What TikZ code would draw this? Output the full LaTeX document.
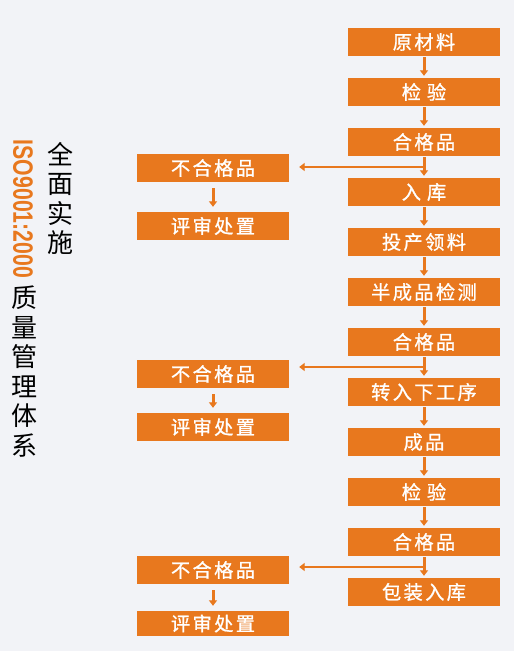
\documentclass[tikz,border=0pt]{standalone}
\usepackage{fontspec}
\usetikzlibrary{arrows.meta,calc}
\newfontfamily\cjk{Noto Sans CJK SC}
\newfontfamily\cjkbox[FakeBold=1]{Noto Sans CJK SC}
\newfontfamily\isofont{Liberation Sans}
\definecolor{org}{RGB}{232,120,30}
\definecolor{bgc}{RGB}{242,243,247}
\newcommand\gp{\hskip2.4pt\relax}
\newcommand\wgp{\hskip6pt\relax}
\tikzset{
  box/.style={fill=org, text=white, minimum width=152pt, minimum height=28pt, inner sep=0pt,
    font=\cjkbox\fontsize{19.2}{19.2}\selectfont},
  arr/.style={draw=org, line width=3pt, -{Triangle[length=5.5pt,width=8pt]}},
  vtext/.style={inner sep=0pt, align=center, font=\cjk\fontsize{26}{29.5}\selectfont}
}
\begin{document}
\begin{tikzpicture}[x=1pt,y=-1pt]
\fill[bgc] (0,0) rectangle (514,651);
\useasboundingbox (0,0) rectangle (514,651);
% right column
\node[box] (r0) at (424,42) {原\gp 材\gp 料};
\node[box] (r1) at (424,92) {检\wgp 验};
\node[box] (r2) at (424,142) {合\gp 格\gp 品};
\node[box] (r3) at (424,192) {入\wgp 库};
\node[box] (r4) at (424,242) {投\gp 产\gp 领\gp 料};
\node[box] (r5) at (424,292) {半\gp 成\gp 品\gp 检\gp 测};
\node[box] (r6) at (424,342) {合\gp 格\gp 品};
\node[box] (r7) at (424,392) {转\gp 入\gp 下\gp 工\gp 序};
\node[box] (r8) at (424,442) {成\gp 品};
\node[box] (r9) at (424,492) {检\wgp 验};
\node[box] (r10) at (424,542) {合\gp 格\gp 品};
\node[box] (r11) at (424,592) {包\gp 装\gp 入\gp 库};
% left column
\node[box] (a1) at (213,168) {不\gp 合\gp 格\gp 品};
\node[box] (b1) at (213,226) {评\gp 审\gp 处\gp 置};
\node[box] (a2) at (213,374) {不\gp 合\gp 格\gp 品};
\node[box] (b2) at (213,427) {评\gp 审\gp 处\gp 置};
\node[box] (a3) at (213,570) {不\gp 合\gp 格\gp 品};
\node[box, minimum height=25pt] (b3) at (213,623.5) {评\gp 审\gp 处\gp 置};
% right arrows
\foreach \i/\j in {r0/r1,r1/r2,r2/r3,r3/r4,r4/r5,r5/r6,r6/r7,r7/r8,r8/r9,r9/r10,r10/r11}
  \draw[arr, shorten <=1pt, shorten >=2pt] (\i.south) -- (\j.north);
% left arrows
\foreach \i/\j in {a1/b1,a2/b2,a3/b3}
  \draw[arr, shorten <=6pt, shorten >=5pt] (\i.south) -- (\j.north);
% branches
\coordinate (m1) at ($(r2.south)!0.5!(r3.north)$);
\draw[arr, line width=2.4pt, shorten >=10pt] (m1) -- (a1.east |- m1);
\coordinate (m2) at ($(r6.south)!0.5!(r7.north)$);
\draw[arr, line width=2.4pt, shorten >=10pt] (m2) -- (a2.east |- m2);
\coordinate (m3) at ($(r10.south)!0.5!(r11.north)$);
\draw[arr, line width=2.4pt, shorten >=10pt] (m3) -- (a3.east |- m3);
% side texts
\node[vtext] (t1) at (60,198.5) {全\\面\\实\\施};
\node[vtext] (t2) at (24,371.5) {质\\量\\管\\理\\体\\系};
\node[inner sep=0pt, rotate=-90, text=org, font=\isofont\bfseries\fontsize{28}{28}\selectfont] (t3) at (23,209)
  {\scalebox{0.76}[1]{ISO9001:2000}};
\end{tikzpicture}
\end{document}
